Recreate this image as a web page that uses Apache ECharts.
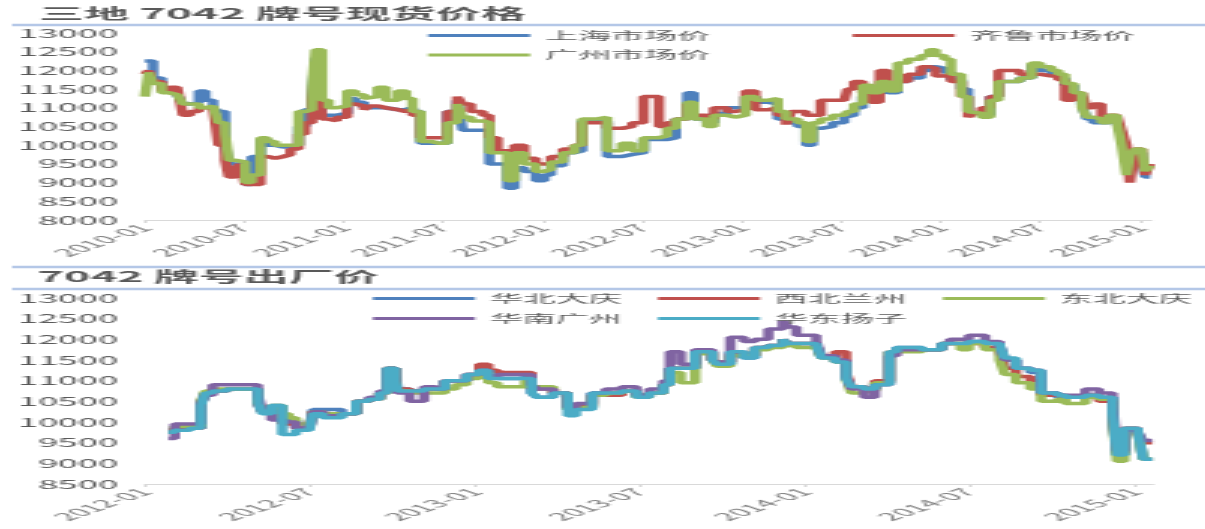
<!DOCTYPE html>
<html>
<head>
<meta charset="utf-8">
<script src="https://cdn.jsdelivr.net/npm/echarts@6/dist/echarts.min.js"></script>
<style>
  html, body { margin: 0; padding: 0; background: #fff; overflow: hidden; }
  /* the source picture is stretched about 3x wide, so draw narrow and stretch */
  #main { width: 402px; height: 529px; transform: scaleX(3); transform-origin: 0 0; }
</style>
</head>
<body>
<div id="main"></div>
<script>
// 三地 7042 现货价格
var topDates = [
  '2010-01-01','2010-01-08','2010-01-16','2010-02-01','2010-02-15','2010-03-01','2010-03-12','2010-03-25','2010-04-10','2010-04-22',
  '2010-05-06','2010-05-16','2010-05-28','2010-06-04','2010-06-16','2010-06-25','2010-07-04','2010-07-16','2010-08-01','2010-08-13',
  '2010-08-28','2010-09-13','2010-09-25','2010-10-10','2010-10-22','2010-11-04','2010-11-10','2010-11-16','2010-11-22','2010-12-04',
  '2010-12-19','2011-01-07','2011-01-22','2011-02-07','2011-02-18','2011-03-04','2011-03-19','2011-04-10','2011-04-25','2011-05-07',
  '2011-05-22','2011-06-10','2011-06-25','2011-07-10','2011-07-28','2011-08-07','2011-08-22','2011-09-13','2011-09-25','2011-10-10',
  '2011-10-28','2011-11-10','2011-11-28','2011-12-19','2012-01-04','2012-01-16','2012-02-07','2012-02-28','2012-03-13','2012-04-10',
  '2012-04-28','2012-05-25','2012-06-13','2012-07-04','2012-08-01','2012-08-16','2012-09-01','2012-09-22','2012-10-04','2012-10-28',
  '2012-11-10','2012-12-04','2012-12-19','2013-01-07','2013-01-25','2013-02-19','2013-03-07','2013-03-22','2013-04-01','2013-04-13',
  '2013-04-28','2013-05-10','2013-05-25','2013-06-16','2013-07-07','2013-07-13','2013-07-25','2013-08-10','2013-08-25','2013-09-10',
  '2013-09-25','2013-10-13','2013-11-01','2013-11-25','2013-12-10','2013-12-22','2014-01-07','2014-01-19','2014-02-07','2014-02-19',
  '2014-03-01','2014-03-16','2014-04-01','2014-04-16','2014-05-25','2014-06-16','2014-07-01','2014-07-22','2014-08-04','2014-08-16',
  '2014-09-01','2014-09-16','2014-09-25','2014-10-07','2014-10-22','2014-11-04','2014-11-19','2014-11-28','2014-12-07','2014-12-13',
  '2014-12-22','2015-01-04','2015-01-10','2015-01-19'
];
var shanghai = [
  12250,12250,11800,11500,11450,11350,11100,11150,11450,11200,
  11000,10900,10000,9500,9500,9500,8950,9700,10150,10000,
  9950,9950,10000,10500,10950,11300,12300,12400,10800,10800,
  10850,11250,11150,11000,11000,11000,10950,10950,11000,10900,
  10050,10050,10050,10900,11200,10400,10400,10400,9500,9500,
  8850,9400,9300,9050,9200,9450,9800,9850,10650,10650,
  9700,9750,9800,10150,10150,10200,10700,11400,10700,10600,
  10850,11000,11000,11300,11150,11100,10700,10700,10600,10500,
  10000,10450,10500,10600,10750,10800,11000,11300,11400,11500,
  11400,11700,11800,12000,12100,12050,11950,11750,11500,10900,
  10850,10800,11300,11700,11800,12150,12000,11900,11800,11600,
  11300,11100,10700,10600,10600,10700,10600,10300,9700,9400,
  9800,9700,9150,9150
];
var qilu = [
  11900,12000,11700,11450,11550,11500,10800,10900,11000,11000,
  11000,10000,9600,9150,9400,9500,8950,8950,9700,9650,
  9700,9750,9900,10300,10600,11200,11900,12300,10700,10650,
  10750,11100,11050,10950,11050,11000,10950,10900,10950,10800,
  10200,10200,10200,10900,11300,11100,10900,10800,10200,9850,
  9850,10000,9650,9500,9500,9700,9900,10000,10600,10600,
  10450,10500,10600,11300,10500,10600,10700,11100,10800,10700,
  11000,10900,10950,11450,10950,11000,10800,10550,10900,10900,
  10800,10800,11200,11200,11250,11500,11700,11400,11150,12000,
  11600,11700,11900,12100,12050,11850,11900,11700,11300,10750,
  10850,11000,11300,12000,11900,11900,11850,11850,11750,11200,
  11400,11350,11000,11100,10700,10800,10800,10400,10000,9000,
  9900,9550,9200,9500
];
var guangzhou = [
  11300,11950,11650,11400,11350,11300,11100,11100,11000,11050,
  11050,10600,10300,9600,9600,9550,9000,9200,10200,10100,
  10000,10000,10000,10900,10950,11600,12550,12550,11200,11000,
  11050,11450,11350,11250,11300,11550,11200,11450,11250,10900,
  10100,10050,10050,10600,11100,10750,10650,10600,9800,9800,
  9050,9800,9500,9300,9350,9550,9800,10000,10700,10750,
  9850,10050,9850,10200,10250,10450,10700,11150,10700,10500,
  10800,10750,10800,11300,11200,11250,10900,10700,10700,10600,
  10100,10600,10700,10800,10850,10900,11100,11600,11400,11700,
  11450,12200,12300,12400,12550,12400,12300,11900,11300,10900,
  10850,10750,11200,11700,11800,12200,12100,12000,11900,11650,
  11400,11000,10750,10700,10600,10800,10600,10000,9200,9700,
  9900,9850,9300,9450
];
var topTicks = ['2010-01','2010-07','2011-01','2011-07','2012-01','2012-07','2013-01','2013-07','2014-01','2014-07','2015-01'];

// 7042 出厂价
var botDates = [
  '2012-01-27','2012-02-03','2012-02-20','2012-03-03','2012-03-08','2012-03-16','2012-04-01','2012-04-20','2012-05-05','2012-05-10',
  '2012-05-20','2012-06-01','2012-06-08','2012-06-16','2012-07-01','2012-07-05','2012-07-16','2012-08-06','2012-08-22','2012-09-05',
  '2012-09-17','2012-09-25','2012-10-04','2012-10-07','2012-10-20','2012-11-05','2012-11-18','2012-11-28','2012-12-10','2012-12-22',
  '2013-01-05','2013-01-15','2013-01-25','2013-02-25','2013-03-04','2013-03-10','2013-03-28','2013-04-13','2013-04-22','2013-05-10',
  '2013-05-25','2013-06-12','2013-06-28','2013-07-12','2013-07-28','2013-08-04','2013-08-16','2013-09-01','2013-09-20','2013-09-25',
  '2013-10-10','2013-10-25','2013-11-06','2013-11-21','2013-12-07','2013-12-13','2013-12-22','2014-01-13','2014-01-19','2014-02-03',
  '2014-02-15','2014-02-21','2014-03-07','2014-03-19','2014-04-04','2014-04-12','2014-05-10','2014-06-01','2014-06-10','2014-06-22',
  '2014-07-01','2014-07-19','2014-08-04','2014-08-10','2014-08-22','2014-09-07','2014-09-19','2014-10-07','2014-10-16','2014-11-07',
  '2014-11-22','2014-12-07','2014-12-12','2014-12-20','2015-01-04','2015-01-10','2015-01-20'
];
var huabei = [
  9750,9850,9850,10450,10700,10750,10800,10800,10450,10250,
  10400,10050,10050,9850,9850,10300,10300,10200,10500,10550,
  10700,11300,11150,10800,10750,10800,10800,11000,11000,11150,
  11250,11100,11050,11100,10700,10600,10700,10300,10350,10700,
  10700,10750,10600,10700,10900,11300,11300,11700,11500,11400,
  11700,11550,11800,11850,12000,11900,11900,11850,11550,11450,
  11100,10850,10800,10950,11700,11800,11750,11900,11900,11900,
  11950,11900,11800,11500,11300,11200,10700,10600,10600,10650,
  10600,10200,9200,9850,9750,9100,9100
];
var xibei = [
  9750,9850,9850,10450,10700,10750,10800,10800,10450,10250,
  10350,9950,9950,9850,9850,10250,10150,10200,10500,10550,
  10700,11300,11000,10800,10750,10800,10800,11000,11000,11150,
  11400,11250,11200,11200,10800,10800,10700,10350,10400,10650,
  10650,10750,10650,10700,10900,11300,11300,11700,11500,11450,
  11650,11600,11800,11850,12000,11900,11900,11850,11600,11700,
  11200,10850,10800,11000,11700,11750,11750,11900,11900,11900,
  11900,11800,11700,11300,11100,11000,10650,10650,10600,10650,
  10500,10250,9250,9850,9700,9500,9500
];
var dongbei = [
  9750,9900,9900,10500,10750,10800,10800,10800,10500,10300,
  10400,10200,10100,9950,9950,10250,10200,10200,10500,10550,
  10700,11300,11000,10750,10700,10700,10700,10800,10900,11050,
  11200,10950,10850,11000,10850,10850,10700,10300,10350,10650,
  10700,10750,10600,10700,10900,11200,10950,11650,11500,11350,
  11600,11600,11750,11800,11900,11850,11800,11800,11550,11450,
  11050,10700,10750,10950,11700,11700,11750,11900,11900,11750,
  11900,11750,11500,11150,10950,10800,10500,10550,10450,10600,
  10550,10150,9050,9800,9700,9100,9100
];
var huanan = [
  9600,9950,9950,10450,10650,10900,10900,10900,10650,10300,
  10050,10000,10000,9850,9850,10250,10150,10200,10500,10600,
  10750,11300,10900,10700,10500,10850,10800,11000,11000,11150,
  11250,11100,11150,11150,10900,10800,10700,10350,10450,10700,
  10800,10850,10650,10800,11000,11700,11400,11750,11500,11450,
  12050,11950,12000,12250,12450,12300,12100,11950,11600,11500,
  11100,10800,10600,10900,11600,11750,11750,11900,12000,12000,
  12100,11950,11850,11500,11300,11250,10700,10650,10650,10800,
  10700,10450,9300,9800,9750,9550,9550
];
var huadong = [
  9750,9800,9850,10400,10700,10750,10800,10800,10450,10200,
  10400,9700,9700,9800,9800,10200,10100,10200,10500,10550,
  10700,11300,11000,10750,10750,10800,10800,11000,11000,11150,
  11250,11050,11050,11050,10700,10600,10700,10150,10300,10700,
  10700,10750,10600,10700,10900,11300,11300,11700,11500,11400,
  11700,11550,11800,11850,12000,11900,11900,11850,11550,11450,
  11050,10850,10800,10900,11700,11800,11750,11900,11900,11900,
  11950,11900,11850,11550,11300,11250,10700,10650,10600,10650,
  10600,10200,9200,9850,9750,9100,9100
];
var botTicks = ['2012-01','2012-07','2013-01','2013-07','2014-01','2014-07','2015-01'];

function ts(s) {
  var p = s.split('-');
  return Date.UTC(+p[0], +p[1] - 1, p[2] ? +p[2] : 1);
}
function pairs(dates, vals) {
  return dates.map(function(d, i) { return [ts(d), vals[i]]; });
}
function ym(v) {
  var d = new Date(v);
  var m = d.getUTCMonth() + 1;
  return d.getUTCFullYear() + '-' + (m < 10 ? '0' + m : m);
}

var font = '"Noto Sans CJK SC", "Noto Sans", sans-serif';
var axisEnd = ts('2015-01-21');

function xAxis(grid, ticks, start) {
  var vals = ticks.map(ts);
  return {
    type: 'value',
    gridIndex: grid,
    min: ts(start),
    max: axisEnd,
    splitLine: { show: false },
    axisLine: { lineStyle: { color: '#d9d9d9', width: 1 } },
    axisTick: { customValues: vals, length: 3, lineStyle: { color: '#d9d9d9' } },
    axisLabel: {
      customValues: vals,
      rotate: 45,
      margin: 6,
      fontSize: 11,
      fontFamily: font,
      color: '#7f7f7f',
      formatter: ym
    }
  };
}
function yAxis(grid, min) {
  return {
    type: 'value',
    gridIndex: grid,
    min: min,
    max: 13000,
    interval: 500,
    splitLine: { show: false },
    axisLine: { show: false },
    axisTick: { show: false },
    axisLabel: {
      fontSize: 12, fontFamily: font, color: '#595959', margin: 9,
      formatter: function(v) { return String(v); }
    }
  };
}
function line(name, color, xi, dates, vals) {
  return {
    name: name,
    type: 'line',
    xAxisIndex: xi,
    yAxisIndex: xi,
    step: 'end',
    showSymbol: false,
    symbol: 'none',
    data: pairs(dates, vals),
    itemStyle: { color: color },
    lineStyle: { color: color, width: 3.5 }
  };
}
function legend(left, top, names, gap) {
  return {
    left: left, top: top, padding: 0,
    data: names, icon: 'rect',
    itemWidth: 34, itemHeight: 3, itemGap: gap,
    selectedMode: false,
    textStyle: { fontSize: 11, fontFamily: font, color: '#595959' }
  };
}
function rule(y) {
  return {
    type: 'line',
    shape: { x1: 4, y1: y, x2: 402, y2: y },
    style: { stroke: '#b4c7e7', lineWidth: 2.5 }
  };
}

var myChart = echarts.init(document.getElementById('main'));
var option = {
  animation: false,
  backgroundColor: '#fff',
  title: [
    { text: '三地 7042 牌号现货价格', left: 13, top: 6, padding: 0,
      textStyle: { fontSize: 15, fontWeight: 'bold', fontFamily: font, color: '#595959' } },
    { text: '7042 牌号出厂价', left: 12.5, top: 269, padding: 0,
      textStyle: { fontSize: 15, fontWeight: 'bold', fontFamily: font, color: '#595959' } }
  ],
  legend: [
    legend(142.7, 30, ['上海市场价', '齐鲁市场价'], 47.5),
    legend(142.7, 49.5, ['广州市场价'], 47.5),
    legend(124.3, 293, ['华北大庆', '西北兰州', '东北大庆'], 12),
    legend(124.3, 313, ['华南广州', '华东扬子'], 12)
  ],
  grid: [
    { left: 48.3, right: 18.3, top: 33, height: 187 },
    { left: 48.3, right: 17.6, top: 298, height: 186 }
  ],
  xAxis: [xAxis(0, topTicks, '2010-01'), xAxis(1, botTicks, '2012-01')],
  yAxis: [yAxis(0, 8000), yAxis(1, 8500)],
  graphic: [rule(25), rule(267), rule(289)],
  series: [
    line('上海市场价', '#4f81bd', 0, topDates, shanghai),
    line('齐鲁市场价', '#c0504d', 0, topDates, qilu),
    line('广州市场价', '#9bbb59', 0, topDates, guangzhou),
    line('华北大庆', '#4f81bd', 1, botDates, huabei),
    line('西北兰州', '#c0504d', 1, botDates, xibei),
    line('东北大庆', '#9bbb59', 1, botDates, dongbei),
    line('华南广州', '#8064a2', 1, botDates, huanan),
    line('华东扬子', '#4bacc6', 1, botDates, huadong)
  ]
};
myChart.setOption(option);
</script>
</body>
</html>
